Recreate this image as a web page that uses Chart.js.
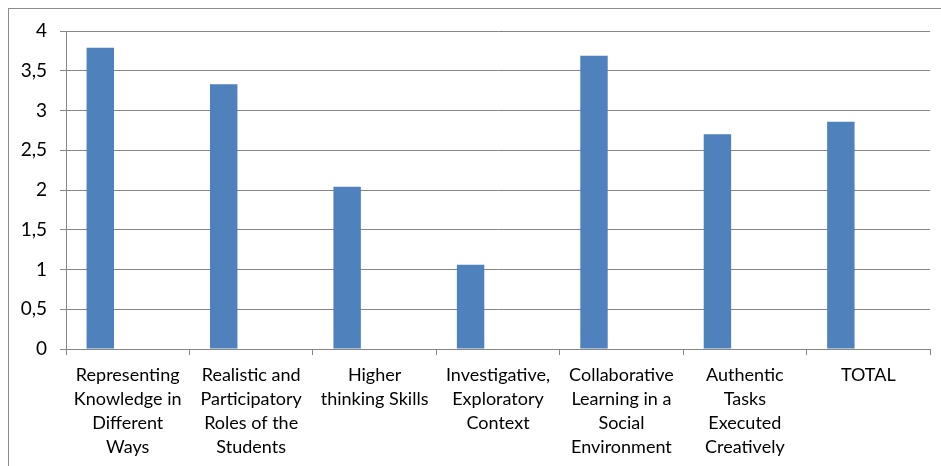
<!DOCTYPE html>
<html>
<head>
<meta charset="utf-8">
<script src="https://cdn.jsdelivr.net/npm/chart.js@4"></script>
<style>
  body { margin: 0; background: #fff; }
  #frame { position: absolute; left: 8px; top: 8px; width: 980px; height: 500px; border: 1px solid #8c8c8c; }
  #wrap { position: absolute; left: 0; top: 0; width: 941px; height: 466px; }
</style>
</head>
<body>
<div id="frame"></div>
<div id="wrap"><canvas id="myChart"></canvas></div>
<script>
const categories = [
  ['Representing', 'Knowledge in', 'Different', 'Ways'],
  ['Realistic and', 'Participatory', 'Roles of the', 'Students'],
  ['Higher', 'thinking Skills'],
  ['Investigative,', 'Exploratory', 'Context'],
  ['Collaborative', 'Learning in a', 'Social', 'Environment'],
  ['Authentic', 'Tasks', 'Executed', 'Creatively'],
  ['TOTAL']
];
const scores = [3.79, 3.33, 2.04, 1.06, 3.69, 2.70, 2.86];
// two empty series (the original sheet had three series, only one filled)
const empty1 = [null, null, null, null, null, null, null];
const empty2 = [null, null, null, null, null, null, null];

const lineColor = '#868686';
const xFont = {family: 'Lato', size: 18, lineHeight: 24 / 18};
const yFont = {family: 'Lato', size: 19};

const config = {
  type: 'bar',
  data: {
    labels: categories,
    datasets: [
      {label: 'Series 1', data: scores, backgroundColor: '#4F81BD', borderWidth: 0},
      {label: 'Series 2', data: empty1, backgroundColor: '#C0504D'},
      {label: 'Series 3', data: empty2, backgroundColor: '#9BBB59'}
    ]
  },
  options: {
    responsive: true,
    maintainAspectRatio: false,
    animation: false,
    categoryPercentage: 3 / 4.5,
    barPercentage: 1,
    layout: {padding: {left: 0, right: 11, top: 31, bottom: 0}},
    plugins: {legend: {display: false}, tooltip: {enabled: false}},
    scales: {
      x: {
        offset: true,
        grid: {offset: true, drawOnChartArea: false, drawTicks: true, tickLength: 6, color: lineColor},
        border: {display: true, color: lineColor},
        ticks: {color: '#000', font: xFont, padding: 8, maxRotation: 0, autoSkip: false},
        afterFit: s => { s.height = 117; }
      },
      y: {
        min: 0,
        max: 4,
        grid: {color: lineColor, tickLength: 6},
        border: {display: true, color: lineColor},
        ticks: {
          stepSize: 0.5,
          color: '#000',
          font: yFont,
          padding: 13,
          callback: v => String(v).replace('.', ',')
        },
        afterFit: s => { s.width = 66; }
      }
    }
  }
};

const myChart = new Chart(document.getElementById('myChart'), config);
</script>
</body>
</html>
